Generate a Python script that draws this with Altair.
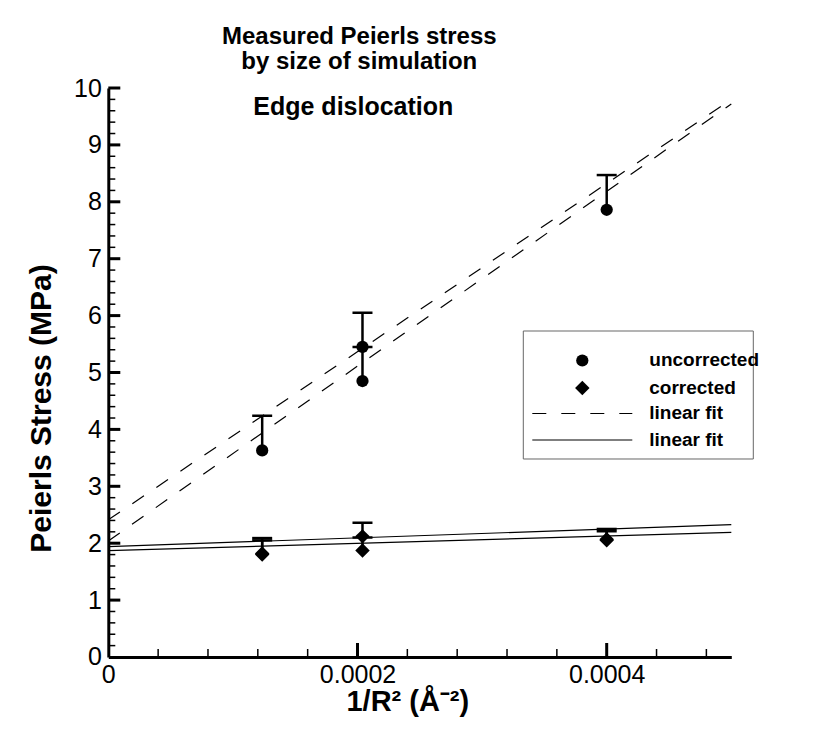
import altair as alt
import pandas as pd

# ---------------- data ----------------
unc_x = [0.0001235, 0.000204, 0.000204, 0.0004]
unc_y = [3.63, 4.85, 5.45, 7.86]
unc_top = [4.24, 5.45, 6.05, 8.47]

cor_x = [0.0001235, 0.0001235, 0.000204, 0.000204, 0.0004, 0.0004]
cor_y = [1.80, 1.82, 1.87, 2.12, 2.05, 2.07]
cor_top = [2.05, 2.09, 2.10, 2.36, 2.21, 2.25]

fit_x = [0.0, 0.0005]
dash_fit_1 = [2.41, 9.80]
dash_fit_2 = [2.04, 9.72]
solid_fit_1 = [1.94, 2.325]
solid_fit_2 = [1.87, 2.19]

x_labels = [0.0, 0.0002, 0.0004]
y_labels = [0, 1, 2, 3, 4, 5, 6, 7, 8, 9, 10]
x_major = [0.0002, 0.0004]
x_minor = [0.00004, 0.00008, 0.00012, 0.00016, 0.00024, 0.00028, 0.00032,
           0.00036, 0.00044, 0.00048]
y_major = [1, 2, 3, 4, 5, 6, 7, 8, 9, 10]
y_minor = [round(i * 0.2, 1) for i in range(1, 50) if i % 5 != 0]

title_lines = ["Measured Peierls stress", "by size of simulation"]
subtitle = "Edge dislocation"
legend_labels = ["uncorrected", "corrected", "linear fit", "linear fit"]
x_title = "1/R\u00b2 (\u00c5\u207b\u00b2)"
y_title = "Peierls Stress (MPa)"

# ---------------- styling ----------------
W, H = 623, 569
LABEL_FONT = "Liberation Sans Narrow, Liberation Sans, sans-serif"
BOLD_FONT = "Liberation Sans, Arial, sans-serif"

xs = alt.Scale(domain=[0, 0.0005], nice=False, zero=True)
ys = alt.Scale(domain=[0, 10], nice=False, zero=True)

xaxis = alt.Axis(values=x_labels, format=".4~f", grid=False, ticks=False, tickSize=0,
                 domainWidth=3, domainColor="black", labelFont=LABEL_FONT,
                 labelFontSize=25, labelColor="black", labelPadding=6,
                 labelFlush=False, labelOverlap=False, title=x_title,
                 titleFont=BOLD_FONT, titleFontSize=29, titleFontWeight="bold",
                 titleColor="black", titleX=299, titleY=54,
                 titleBaseline="alphabetic", titleAlign="center")
yaxis = alt.Axis(values=y_labels, format="d", grid=False, ticks=False, tickSize=0,
                 domainWidth=3, domainColor="black", labelFont=LABEL_FONT,
                 labelFontSize=25, labelColor="black", labelPadding=7,
                 labelFlush=False, labelOverlap=False, title=y_title,
                 titleFont=BOLD_FONT, titleFontSize=30, titleFontWeight="bold",
                 titleColor="black", titleAngle=270, titleX=-58, titleY=320,
                 titleBaseline="alphabetic", titleAlign="center")


def X(f="x"):
    return alt.X(f, type="quantitative", scale=xs, axis=xaxis)


def Y(f="y"):
    return alt.Y(f, type="quantitative", scale=ys, axis=yaxis)


# ---------------- fit lines ----------------
dash_df = pd.DataFrame({
    "x": fit_x + fit_x,
    "y": dash_fit_1 + dash_fit_2,
    "s": ["a", "a", "b", "b"],
})
solid_df = pd.DataFrame({
    "x": fit_x + fit_x,
    "y": solid_fit_1 + solid_fit_2,
    "s": ["a", "a", "b", "b"],
})
dash_lines = alt.Chart(dash_df).mark_line(color="black", strokeWidth=1.2,
                                          strokeDash=[14, 15]).encode(
    x=X(), y=Y(), detail="s:N")
solid_lines = alt.Chart(solid_df).mark_line(color="black", strokeWidth=1.2).encode(
    x=X(), y=Y(), detail="s:N")

# ---------------- points with error bars ----------------
unc_df = pd.DataFrame({"x": unc_x, "y": unc_y, "top": unc_top})
cor_df = pd.DataFrame({"x": cor_x, "y": cor_y, "top": cor_top})


def err_layers(df):
    stem = alt.Chart(df).mark_rule(color="black", strokeWidth=2.5).encode(
        x=X(), y=Y(), y2="top:Q")
    cap = alt.Chart(df).mark_tick(color="black", orient="horizontal", size=20,
                                  thickness=2.5, opacity=1).encode(
        x=X(), y=Y("top"))
    return stem + cap


unc_pts = alt.Chart(unc_df).mark_point(shape="circle", filled=True, size=150,
                                       color="black", opacity=1).encode(x=X(), y=Y())
cor_pts = alt.Chart(cor_df).mark_point(shape="diamond", filled=True, size=210,
                                       color="black", opacity=1).encode(x=X(), y=Y())

# ---------------- inward ticks ----------------
ymaj = alt.Chart(pd.DataFrame({"y": y_major})).mark_rule(color="black", strokeWidth=3).encode(
    x=alt.value(0), x2=alt.value(12), y=Y())
ymin = alt.Chart(pd.DataFrame({"y": y_minor})).mark_rule(color="black", strokeWidth=1.5).encode(
    x=alt.value(0), x2=alt.value(7), y=Y())
xmaj = alt.Chart(pd.DataFrame({"x": x_major})).mark_rule(color="black", strokeWidth=3).encode(
    x=X(), y=alt.value(H), y2=alt.value(H - 14))
xmin = alt.Chart(pd.DataFrame({"x": x_minor})).mark_rule(color="black", strokeWidth=1.5).encode(
    x=X(), y=alt.value(H), y2=alt.value(H - 8))

# ---------------- titles ----------------
def text_layer(txt, x, y, size):
    return alt.Chart(pd.DataFrame({"t": [txt]})).mark_text(
        font=BOLD_FONT, fontSize=size, fontWeight="bold", color="black",
        align="center", baseline="alphabetic").encode(
        x=alt.value(x), y=alt.value(y), text="t:N")


t1 = text_layer(title_lines[0], 251, -44.5, 24)
t2 = text_layer(title_lines[1], 251, -19.5, 24)
t3 = text_layer(subtitle, 245, 27, 25)

# ---------------- legend ----------------
leg_box = alt.Chart(pd.DataFrame({"a": [0]})).mark_rect(
    fill="white", stroke="#666666", strokeWidth=1).encode(
    x=alt.value(415), x2=alt.value(645), y=alt.value(243), y2=alt.value(371))
leg_circle = alt.Chart(pd.DataFrame({"a": [0]})).mark_point(
    shape="circle", filled=True, size=150, color="black", opacity=1).encode(
    x=alt.value(474), y=alt.value(272.5))
leg_diamond = alt.Chart(pd.DataFrame({"a": [0]})).mark_point(
    shape="diamond", filled=True, size=210, color="black", opacity=1).encode(
    x=alt.value(474), y=alt.value(300))
leg_dash = alt.Chart(pd.DataFrame({"a": [0]})).mark_rule(
    color="black", strokeWidth=1.2, strokeDash=[14, 15]).encode(
    x=alt.value(424), x2=alt.value(524), y=alt.value(325.5))
leg_solid = alt.Chart(pd.DataFrame({"a": [0]})).mark_rule(
    color="black", strokeWidth=1.2).encode(
    x=alt.value(424), x2=alt.value(524), y=alt.value(352))

leg_texts = []
for lab, yy in zip(legend_labels, [272.5, 300, 325.5, 352]):
    leg_texts.append(alt.Chart(pd.DataFrame({"t": [lab]})).mark_text(
        font=BOLD_FONT, fontSize=19, fontWeight="bold", color="black",
        align="left", baseline="middle").encode(
        x=alt.value(541), y=alt.value(yy), text="t:N"))

chart = alt.layer(
    dash_lines, solid_lines,
    err_layers(unc_df), err_layers(cor_df),
    unc_pts, cor_pts,
    ymin, ymaj, xmin, xmaj,
    t1, t2, t3,
    leg_box, leg_circle, leg_diamond, leg_dash, leg_solid, *leg_texts,
).properties(
    width=W, height=H,
    autosize=alt.AutoSizeParams(type="none"),
    padding={"left": 100.3, "top": 80, "right": 90, "bottom": 60},
    background="white",
).configure_view(stroke=None)

chart.save("out.html", embed_options={"renderer": "svg", "actions": False})
